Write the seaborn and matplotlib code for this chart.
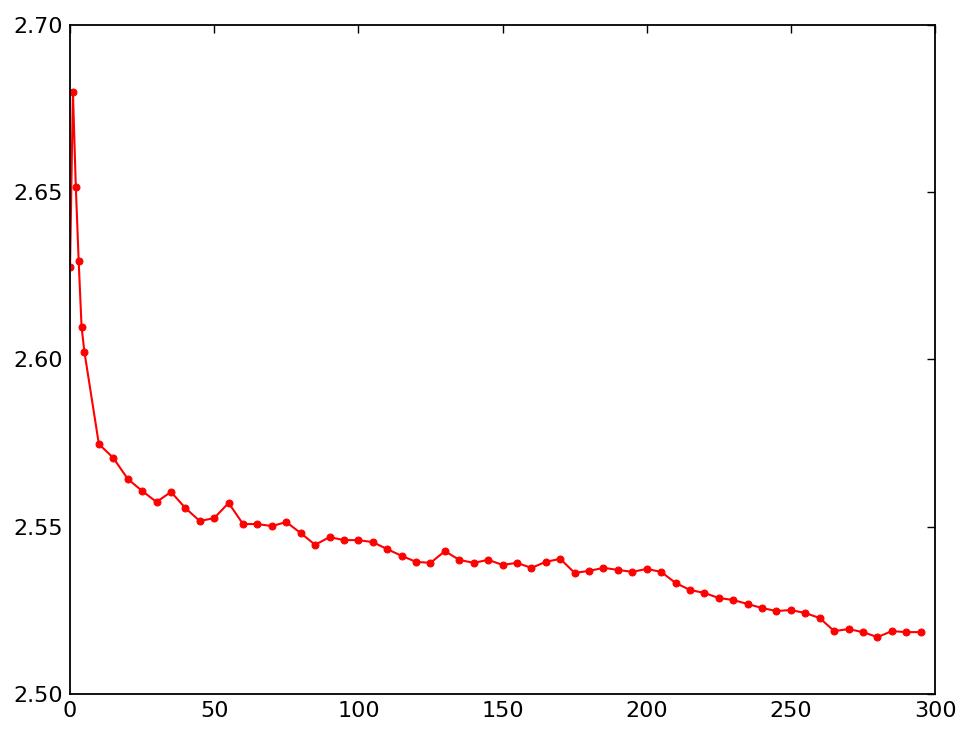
import matplotlib
matplotlib.use("Agg")
import matplotlib.pyplot as plt
import seaborn as sns
import pandas as pd

steps = [0, 1, 2, 3, 4, 5, 10, 15, 20, 25, 30, 35, 40, 45, 50, 55, 60, 65, 70, 75,
         80, 85, 90, 95, 100, 105, 110, 115, 120, 125, 130, 135, 140, 145, 150,
         155, 160, 165, 170, 175, 180, 185, 190, 195, 200, 205, 210, 215, 220,
         225, 230, 235, 240, 245, 250, 255, 260, 265, 270, 275, 280, 285, 290, 295]
loss = [2.6277, 2.6800, 2.6516, 2.6294, 2.6097, 2.6022, 2.5747, 2.5706, 2.5643,
        2.5607, 2.5574, 2.5604, 2.5556, 2.5517, 2.5526, 2.5571, 2.5508, 2.5508,
        2.5502, 2.5514, 2.5481, 2.5446, 2.5469, 2.5460, 2.5460, 2.5454, 2.5433,
        2.5413, 2.5395, 2.5392, 2.5427, 2.5401, 2.5392, 2.5401, 2.5386, 2.5392,
        2.5377, 2.5395, 2.5404, 2.5362, 2.5368, 2.5377, 2.5371, 2.5365, 2.5374,
        2.5365, 2.5332, 2.5311, 2.5302, 2.5287, 2.5281, 2.5269, 2.5257, 2.5248,
        2.5251, 2.5242, 2.5227, 2.5188, 2.5194, 2.5185, 2.5170, 2.5188, 2.5185,
        2.5185]

df = pd.DataFrame({"step": steps, "loss": loss})

sns.set_style("white", {"xtick.direction": "in", "ytick.direction": "in",
                        "axes.edgecolor": "black"})
plt.rcParams['font.family'] = ['DejaVu Sans']

fig = plt.figure(figsize=(9.7, 7.39), dpi=100)
ax = fig.add_axes([0.0722, 0.0609, 0.8918, 0.9053])

sns.lineplot(data=df, x="step", y="loss", ax=ax, color="red", marker="o",
             markersize=5, markeredgecolor="red", linewidth=1.5)

ax.set_xlim(0, 300)
ax.set_ylim(2.50, 2.70)
ax.set_yticks([2.50, 2.55, 2.60, 2.65, 2.70])
ax.set_yticklabels(["2.50", "2.55", "2.60", "2.65", "2.70"])
ax.set_xticks([0, 50, 100, 150, 200, 250, 300])
ax.set_xlabel("")
ax.set_ylabel("")
ax.tick_params(direction="in", top=True, right=True, length=6, width=1,
               labelsize=16, pad=5, color="black", labelcolor="black")
for s in ax.spines.values():
    s.set_linewidth(1.3)
    s.set_color("black")

fig.savefig("out.png", dpi=100)
